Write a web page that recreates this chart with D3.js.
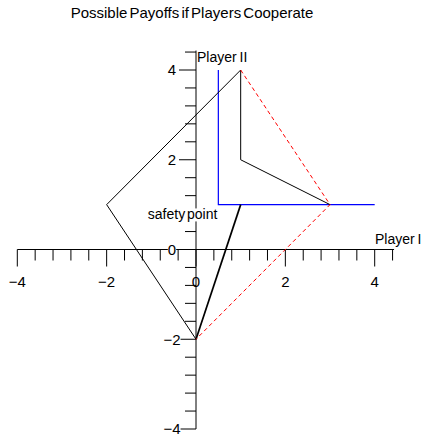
<!DOCTYPE html>
<html>
<head>
<meta charset="utf-8">
<script src="https://cdn.jsdelivr.net/npm/d3@7"></script>
<style>
  html, body { margin: 0; padding: 0; background: #fff; }
  svg { display: block; }
  text { font-family: "Liberation Sans", Arial, Helvetica, sans-serif; fill: #000; }
</style>
</head>
<body>
<svg id="chart" width="422" height="438"></svg>
<script>
// Payoff pairs (Player I, Player II)
const solidEdges = [[1, 4], [-2, 1], [0, -2]];        // left boundary of the payoff region
const dashedEdges = [[1, 4], [3, 1], [0, -2]];        // right boundary (dashed)
const innerPath = [[1, 4], [1, 2], [3, 1]];            // inner black path
const safetyLink = [[0, -2], [1, 1]];                  // heavier segment
const safetyBounds = [[0.5, 4], [0.5, 1], [4, 1]];     // blue bounds from the safety levels
const safetyLabel = { text: "safety point", at: [-0.3, 0.67] };

const tickValues = d3.range(0, 22).map(i => +(-4 + i * 0.4).toFixed(1));
const xTickLabels = [-4, -2, 0, 2, 4];
const yTickLabels = [-4, -2, 0, 2, 4];

const title = "Possible Payoffs if Players Cooperate";
const xTitle = "Player I";
const yTitle = "Player II";

const svg = d3.select("#chart");
const x = d3.scaleLinear().domain([-4, 4]).range([17.3, 374.7]);
const y = d3.scaleLinear().domain([-4, 4]).range([429, 70]);
const fmt = d3.format("d");
const isMajor = v => Math.abs(v / 2 - Math.round(v / 2)) < 1e-6;

const axes = svg.append("g").attr("stroke", "#000").attr("stroke-width", 1);

// x axis: line along y = 0 with ticks hanging below
axes.append("line")
  .attr("x1", x(-4)).attr("x2", x(4.4) + 1.5)
  .attr("y1", y(0)).attr("y2", y(0));
axes.selectAll(".xt").data(tickValues).join("line")
  .attr("x1", d => x(d)).attr("x2", d => x(d))
  .attr("y1", y(0)).attr("y2", d => y(0) + (isMajor(d) ? 17 : 11));

// y axis: line along x = 0 with ticks to the left
axes.append("line")
  .attr("x1", x(0)).attr("x2", x(0))
  .attr("y1", y(-4)).attr("y2", y(4.4) - 1.5);
axes.selectAll(".yt").data(tickValues).join("line")
  .attr("y1", d => y(d)).attr("y2", d => y(d))
  .attr("x1", x(0)).attr("x2", d => x(0) - (isMajor(d) ? 17 : 11));

// tick labels
svg.selectAll(".xl").data(xTickLabels).join("text")
  .attr("x", d => x(d)).attr("y", y(0) + 32.5)
  .attr("text-anchor", "middle")
  .attr("dy", "0.35em")
  .style("font-size", "15px")
  .text(d => fmt(d));

const yLab = svg.selectAll(".yl").data(yTickLabels).join("g")
  .attr("transform", d => `translate(172,${y(d)})`);
yLab.append("rect").attr("fill", "#fff");
yLab.append("text")
  .attr("text-anchor", "middle")
  .attr("dy", "0.35em")
  .style("font-size", "15px")
  .text(d => fmt(d));
yLab.each(function () {
  const g = d3.select(this);
  const b = g.select("text").node().getBBox();
  g.select("rect").attr("x", b.x).attr("y", b.y + 2).attr("width", b.width).attr("height", b.height - 4);
});

// axis titles
svg.append("text").attr("x", x(0) + 1).attr("y", 61.5)
  .style("font-size", "14px").style("word-spacing", "-1px").text(yTitle);
svg.append("text").attr("x", 375).attr("y", 244)
  .style("font-size", "14px").style("word-spacing", "-1px").text(xTitle);

// chart title
svg.append("text").attr("x", 192).attr("y", 17.5)
  .attr("text-anchor", "middle")
  .style("font-size", "15px").style("word-spacing", "-2px")
  .text(title);

// safety point label on a white backing
const sl = svg.append("g");
const slRect = sl.append("rect").attr("fill", "#fff");
const slText = sl.append("text")
  .attr("x", x(safetyLabel.at[0])).attr("y", y(safetyLabel.at[1]))
  .attr("text-anchor", "middle")
  .style("font-size", "14px").style("word-spacing", "-2px")
  .text(safetyLabel.text);
const sb = slText.node().getBBox();
slRect.attr("x", sb.x).attr("y", sb.y + 2).attr("width", sb.width).attr("height", sb.height - 3);

// payoff region and paths
const line = d3.line().x(d => x(d[0])).y(d => y(d[1]));
const marks = svg.append("g").attr("fill", "none");

marks.append("path").datum(safetyBounds).attr("d", line)
  .attr("stroke", "#0000ff").attr("stroke-width", 1.2);
marks.append("path").datum(solidEdges).attr("d", line)
  .attr("stroke", "#000").attr("stroke-width", 1);
marks.append("path").datum(innerPath).attr("d", line)
  .attr("stroke", "#000").attr("stroke-width", 1);
marks.append("path").datum(safetyLink).attr("d", line)
  .attr("stroke", "#000").attr("stroke-width", 1.7);
marks.append("path").datum(dashedEdges).attr("d", line)
  .attr("stroke", "#ff0000").attr("stroke-width", 1)
  .attr("stroke-dasharray", "4,3");
</script>
</body>
</html>
